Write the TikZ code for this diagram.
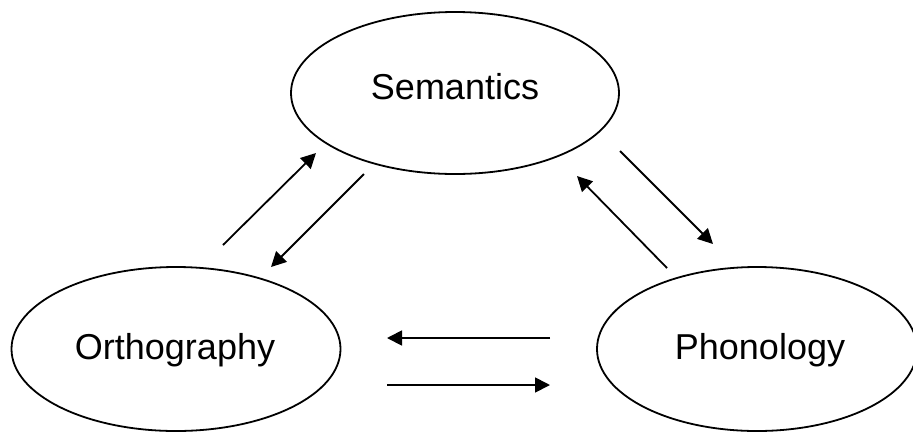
\documentclass[tikz,border=0pt]{standalone}
\usepackage{fontspec}
\setmainfont{Liberation Sans}
\usetikzlibrary{arrows.meta,shapes.geometric,positioning}
\tikzset{
  blob/.style={ellipse,draw,line width=1.8pt,inner sep=0pt},
  lab/.style={anchor=base,font=\fontsize{36}{43}\selectfont},
  link/.style={line width=1.8pt,-{Triangle[length=15pt,width=15pt]}}
}
\begin{document}
\begin{tikzpicture}[x=1pt,y=-1pt]
  \useasboundingbox (0,0) rectangle (913,432);
  % the three ellipses
  \node[blob,minimum width=328pt,minimum height=162pt] (sem) at (455,93) {};
  \node[blob,minimum width=329pt,minimum height=164pt] (orth) at (176,349) {};
  \node[blob,minimum width=320pt,minimum height=164pt] (phon) at (757,349) {};
  \node[lab] (semlab) at (455,99) {Semantics};
  \node[lab] (orthlab) at (175,359) {Orthography};
  \node[lab] (phonlab) at (760,359) {Phonology};
  % arrow ends
  \coordinate (os1) at (223,245); \coordinate (os2) at (316,153);
  \coordinate (so1) at (364,174); \coordinate (so2) at (271,267);
  \coordinate (sp1) at (620,151); \coordinate (sp2) at (713,244);
  \coordinate (ps1) at (667,268); \coordinate (ps2) at (577,176);
  \coordinate (po1) at (550,338); \coordinate (po2) at (387,338);
  \coordinate (op1) at (387,385); \coordinate (op2) at (550,385);
  \draw[link] (os1) -- (os2);
  \draw[link] (so1) -- (so2);
  \draw[link] (sp1) -- (sp2);
  \draw[link] (ps1) -- (ps2);
  \draw[link] (po1) -- (po2);
  \draw[link] (op1) -- (op2);
\end{tikzpicture}
\end{document}
